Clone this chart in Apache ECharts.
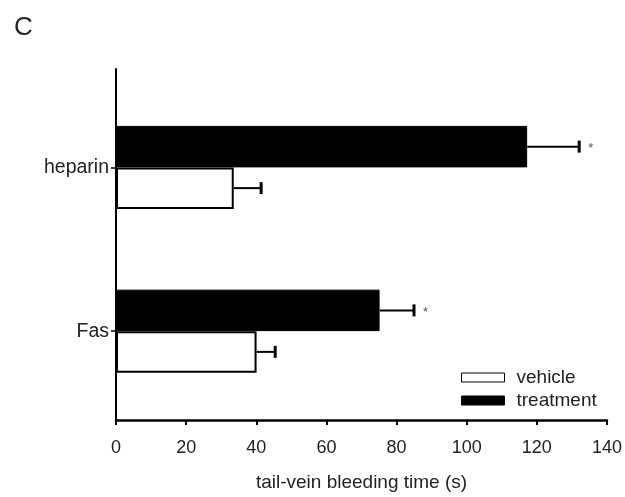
<!DOCTYPE html>
<html>
<head>
<meta charset="utf-8">
<script src="https://cdn.jsdelivr.net/npm/echarts@6/dist/echarts.min.js"></script>
<style>
html,body{margin:0;padding:0;background:#fff;}
#chart{width:625px;height:497px;}
</style>
</head>
<body>
<div id="chart"></div>
<script>
// categories (bottom to top on the category axis)
const categories = ['Fas', 'heparin'];
// mean bleeding times (s)
const vehicleValues = [40, 33.5];
const treatmentValues = [75, 117];
// error bar half-lengths (s)
const vehicleErrors = [5.3, 7.8];
const treatmentErrors = [9.8, 14.8];
// significance marks on treatment bars
const treatmentMarks = ['*', '*'];
// x axis ticks
const xTicks = [0, 20, 40, 60, 80, 100, 120, 140];

const FONT = '"Liberation Sans", Arial, sans-serif';
const BAR_W = 41.5;

function errorRenderer(offset, marks) {
  return function (params, api) {
    const c = api.value(0), m = api.value(1), e = api.value(2);
    const p0 = api.coord([m, c]);
    const p1 = api.coord([m + e, c]);
    const y = p0[1] + offset;
    const children = [
      { type: 'line', shape: { x1: p0[0], y1: y, x2: p1[0], y2: y }, style: { stroke: '#000', lineWidth: 2 } },
      { type: 'line', shape: { x1: p1[0], y1: y - 6, x2: p1[0], y2: y + 6 }, style: { stroke: '#000', lineWidth: 3 } }
    ];
    if (marks && marks[params.dataIndex]) {
      children.push({ type: 'text', style: { text: marks[params.dataIndex], x: p1[0] + 9, y: y + 2, fill: '#555', fontSize: 13, fontFamily: FONT, verticalAlign: 'middle', align: 'left' } });
    }
    return { type: 'group', children: children };
  };
}

const chart = echarts.init(document.getElementById('chart'));
chart.setOption({
  animation: false,
  backgroundColor: '#fff',
  title: { text: 'C', left: 9, top: 10, textStyle: { fontSize: 26, fontWeight: 'normal', color: '#222', fontFamily: FONT } },
  legend: {
    orient: 'vertical', left: 461, top: 368, padding: 0, itemGap: 4,
    itemWidth: 43, itemHeight: 9, icon: 'rect',
    textStyle: { fontSize: 19, color: '#222', fontFamily: FONT, padding: [0, 0, 0, 7] },
    data: [
      { name: 'vehicle', itemStyle: { color: '#fff', borderColor: '#000', borderWidth: 1 } },
      { name: 'treatment', itemStyle: { color: '#000', borderColor: '#000', borderWidth: 1 } }
    ]
  },
  grid: [
    { left: 116, right: 17, top: 85.5, bottom: 84, containLabel: false },
    { left: 116, right: 17, top: 69, bottom: 68.7, containLabel: false }
  ],
  xAxis: [
    { gridIndex: 0, type: 'value', min: 0, max: 140, show: false },
    {
      gridIndex: 1, type: 'value', min: xTicks[0], max: xTicks[xTicks.length - 1], interval: 20,
      axisLine: { show: true, lineStyle: { color: '#000', width: 2.5 } },
      axisTick: { show: true, length: 5, lineStyle: { color: '#000', width: 2 } },
      splitLine: { show: false },
      axisLabel: { margin: 19, fontSize: 18, color: '#222', fontFamily: FONT },
      name: 'tail-vein bleeding time (s)', nameLocation: 'middle', nameGap: 53,
      nameTextStyle: { fontSize: 19, color: '#222', fontFamily: FONT }
    }
  ],
  yAxis: [
    {
      gridIndex: 0, type: 'category', data: categories,
      axisLine: { show: false },
      axisTick: { show: true, alignWithLabel: true, length: 5, lineStyle: { color: '#000', width: 1.5 } },
      axisLabel: { margin: 7, fontSize: 19.5, color: '#222', fontFamily: FONT }
    },
    {
      gridIndex: 1, type: 'value', min: 0, max: 1,
      axisLine: { show: true, lineStyle: { color: '#000', width: 2 } },
      axisTick: { show: false }, axisLabel: { show: false }, splitLine: { show: false }
    }
  ],
  series: [
    {
      name: 'treatment', type: 'bar', xAxisIndex: 0, yAxisIndex: 0, data: treatmentValues,
      barWidth: BAR_W, barGap: '0%',
      itemStyle: { color: '#000', borderColor: '#000', borderWidth: 1 }
    },
    {
      name: 'vehicle', type: 'bar', xAxisIndex: 0, yAxisIndex: 0, data: vehicleValues,
      barWidth: BAR_W, barGap: '0%',
      itemStyle: { color: '#fff', borderColor: '#000', borderWidth: 2 }
    },
    {
      type: 'custom', xAxisIndex: 0, yAxisIndex: 0, z: 5,
      encode: { x: 1, y: 0 },
      renderItem: errorRenderer(-BAR_W / 2, treatmentMarks),
      data: categories.map((c, i) => [i, treatmentValues[i], treatmentErrors[i]])
    },
    {
      type: 'custom', xAxisIndex: 0, yAxisIndex: 0, z: 5,
      encode: { x: 1, y: 0 },
      renderItem: errorRenderer(BAR_W / 2, null),
      data: categories.map((c, i) => [i, vehicleValues[i], vehicleErrors[i]])
    }
  ]
});
</script>
</body>
</html>
